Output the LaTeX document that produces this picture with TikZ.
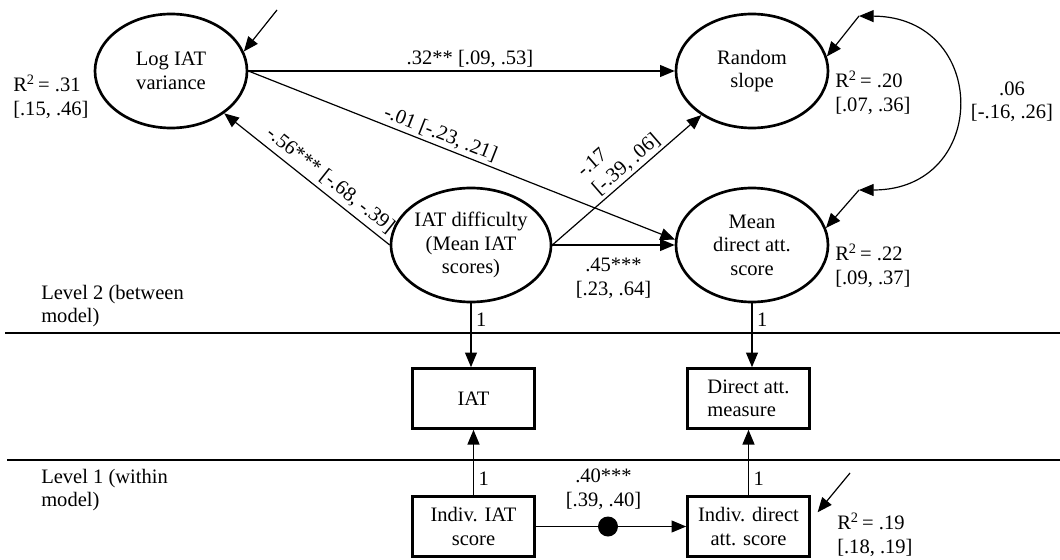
\documentclass[tikz,border=0pt]{standalone}
\usepackage{fontspec}
\setmainfont{Liberation Serif}
\usetikzlibrary{arrows.meta,shapes.geometric,calc}

\begin{document}
\begin{tikzpicture}[x=0.75pt,y=-0.75pt,
  every node/.style={font=\fontsize{15.4}{17.6}\selectfont},
  latent/.style={draw,ellipse,line width=2pt,minimum width=114pt,minimum height=85.5pt,inner sep=0pt,align=center},
  observed/.style={draw,rectangle,line width=2pt,minimum width=91.5pt,minimum height=45pt,inner sep=0pt,align=center},
  conn/.style={line width=0.9pt,-{Triangle[length=11pt,width=9pt]}},
  both/.style={line width=0.9pt,{Triangle[length=11pt,width=9pt]}-{Triangle[length=11pt,width=9pt]}},
  levelline/.style={line width=1.1pt},
  note/.style={align=left,anchor=west,inner sep=0pt},
  lab/.style={inner sep=2pt}
]
\useasboundingbox (0,0) rectangle (1060,560);

% level separators and their captions
\coordinate (l2a) at (5,333);  \coordinate (l2b) at (1060,333);
\coordinate (l1a) at (7,460);  \coordinate (l1b) at (1060,460);
\draw[levelline] (l2a) -- (l2b);
\draw[levelline] (l1a) -- (l1b);
\node[note] (lev2) at (41,306) {Level 2 (between\\model)};
\node[note] (lev1) at (41,490) {Level 1 (within\\model)};

% latent variables
\node[latent] (logiat) at (171,71)  {Log IAT\\variance};
\node[latent] (rslope) at (752,71)  {Random\\slope};
\node[latent] (diff)   at (471,245) {IAT difficulty\\(Mean IAT\\scores)};
\node[latent] (mean)   at (752,245) {Mean\\direct att.\\score};

% observed measures
\node[observed] (iat)    at (473.5,398.5) {IAT};
\node[observed,align=left] (dmeas) at (748.5,398.5) {Direct att.\\measure};
\node[observed] (indiat) at (473.5,526.5) {Indiv. IAT\\score};
\node[observed] (inddir) at (748.5,526.5) {Indiv. direct\\att. score};

% explained variance
\node[note] (r31) at (13,97)  {R\textsuperscript{2}\,= .31\\{[}.15, .46]};
\node[note] (r20) at (835,93) {R\textsuperscript{2}\,= .20\\{[}.07, .36]};
\node[note] (r22) at (835,266) {R\textsuperscript{2}\,= .22\\{[}.09, .37]};
\node[note] (r19) at (837,535) {R\textsuperscript{2}\,= .19\\{[}.18, .19]};
\node[align=center,inner sep=0pt] (cov) at (1012,102) {.06\\{[}-.16, .26]};

% structural paths
\draw[conn] (logiat.east) -- node[above,lab,pos=0.52] {.32** [.09, .53]} (rslope.west);
\draw[conn] (logiat.east) -- node[sloped,above,lab,pos=0.44] {-.01 [-.23, .21]} (mean.176);
\draw[conn] (diff.west) -- node[sloped,above,pos=0.41] {-.56*** [-.68, -.39]} (logiat);
\draw[conn] (diff.east) -- node[sloped,above,lab,pos=0.55,align=left] {-.17\\{[}-.39, .06]} (rslope);
\draw[conn] (diff.east) -- node[below=6pt,pos=0.5,align=center] {.45***\\{[}.23, .64]} (mean.west);

% loadings
\draw[conn] (diff.south) -- node[right,pos=0.25] {1} (diff.south |- iat.north);
\draw[conn] (mean.south) -- node[right,pos=0.25] {1} (mean.south |- dmeas.north);
\draw[conn] (indiat.north) -- node[right,pos=0.25] {1} (iat.south);
\draw[conn] (inddir.north) -- node[right,pos=0.25] {1} (dmeas.south);

% within-level path with random slope
\draw[conn] (indiat.east) -- node[pos=0.48,circle,fill,inner sep=0pt,minimum size=15pt] (dot) {}
  node[above=9pt,pos=0.45,align=center] {.40***\\{[}.39, .40]} (inddir.west);

% residuals
\coordinate (e1) at (277,10);
\coordinate (e2) at (859,16);
\coordinate (e3) at (859,190);
\coordinate (e4) at (850,473);
\draw[conn] (e1) -- (logiat.15);
\draw[conn] (e2) -- (rslope.11);
\draw[conn] (e3) -- (mean.13);
\draw[conn,shorten >=8pt] (e4) -- ($(inddir.east)+(0,-6)$);
\draw[both] (e2) .. controls (990,17) and (990,190) .. (e3);
\end{tikzpicture}
\end{document}
